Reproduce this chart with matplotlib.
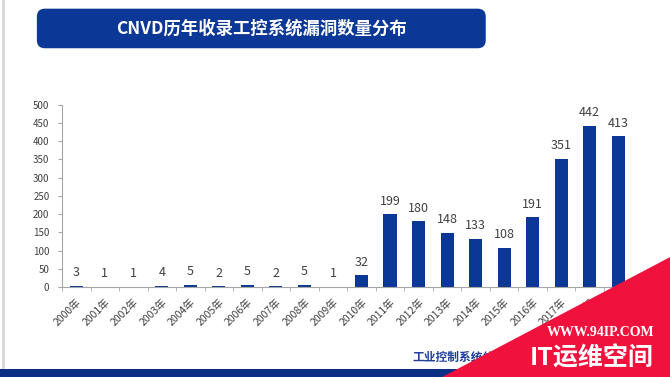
import numpy as np
import matplotlib.pyplot as plt
from matplotlib.patches import FancyBboxPatch, Polygon, Rectangle

plt.rcParams["font.family"] = ["Noto Sans CJK SC", "DejaVu Sans"]

# data
years = ["%d年" % y for y in range(2000, 2020)]
counts = [3, 1, 1, 4, 5, 2, 5, 2, 5, 1, 32, 199, 180, 148, 133, 108, 191, 351, 442, 413]
title = "CNVD历年收录工控系统漏洞数量分布"
yticks = [0, 50, 100, 150, 200, 250, 300, 350, 400, 450, 500]

navy = "#0b3796"
grey_txt = "#404040"

fig = plt.figure(figsize=(6.7, 3.77), dpi=100)
fig.patch.set_facecolor("white")

# slide frame and bottom strip
fig.add_artist(Rectangle((0.003, 0.0), 0.004, 1.0, transform=fig.transFigure,
                         color="#d9d9d9", lw=0))
fig.add_artist(Rectangle((0.0, 0.0), 1.0, 0.021, transform=fig.transFigure,
                         color="#0b2f85", lw=0))

# title banner
banner = FancyBboxPatch((0.055, 0.872), 0.67, 0.105, transform=fig.transFigure,
                        boxstyle="round,pad=0,rounding_size=0.012",
                        facecolor=navy, edgecolor="none", mutation_aspect=1.78)
fig.add_artist(banner)
fig.text(0.39, 0.923, title, color="white", fontsize=12.5, fontweight="bold",
         ha="center", va="center")

ax = fig.add_axes([0.0925, 0.2387, 0.8515, 0.4836])
x = np.arange(len(years))
bars = ax.bar(x, counts, width=0.46, color=navy)
for xi, v in zip(x, counts):
    ax.annotate(str(v), (xi, v), xytext=(0, 9.5), textcoords="offset points",
                ha="center", va="center", fontsize=9, color=grey_txt)

ax.set_xlim(-0.5, len(years) - 0.5)
ax.set_ylim(0, 500)
ax.set_yticks(yticks)
ax.set_yticklabels([str(t) for t in yticks], fontsize=7, color=grey_txt)
ax.set_xticks(x)
ax.set_xticklabels(years, rotation=45, ha="right", rotation_mode="anchor",
                   fontsize=7.5, color=grey_txt)
ax.set_xticks(np.arange(-0.5, len(years), 1), minor=True)
ax.tick_params(axis="x", which="major", length=0, pad=7)
ax.tick_params(axis="x", which="minor", length=3, color="#a6a6a6")
ax.tick_params(axis="y", length=3, color="#a6a6a6", pad=6)
for s in ["top", "right"]:
    ax.spines[s].set_visible(False)
ax.spines["left"].set_color("#a6a6a6")
ax.spines["bottom"].set_color("#a6a6a6")
ax.spines["left"].set_linewidth(0.8)
ax.spines["bottom"].set_linewidth(0.8)

# source caption, partly under the watermark
fig.text(0.616, 0.053, "工业控制系统信息安全", color="#1f3f9a", fontsize=8.5,
         fontweight="bold", ha="left", va="center", zorder=2)

# watermark corner
fig.add_artist(Polygon([(0.66, 0.0), (1.0, 0.318), (1.0, 0.0)], closed=True,
                       transform=fig.transFigure, facecolor="#f0113c",
                       edgecolor="none", zorder=5))
fig.text(0.896, 0.117, "WWW.94IP.COM", color="white", fontsize=10,
         fontweight="bold", family="Liberation Serif", ha="center", va="center",
         zorder=6)
fig.text(0.883, 0.05, "IT运维空间", color="white", fontsize=18,
         fontweight="bold", ha="center", va="center", zorder=6)

fig.savefig("out.png", dpi=100)
